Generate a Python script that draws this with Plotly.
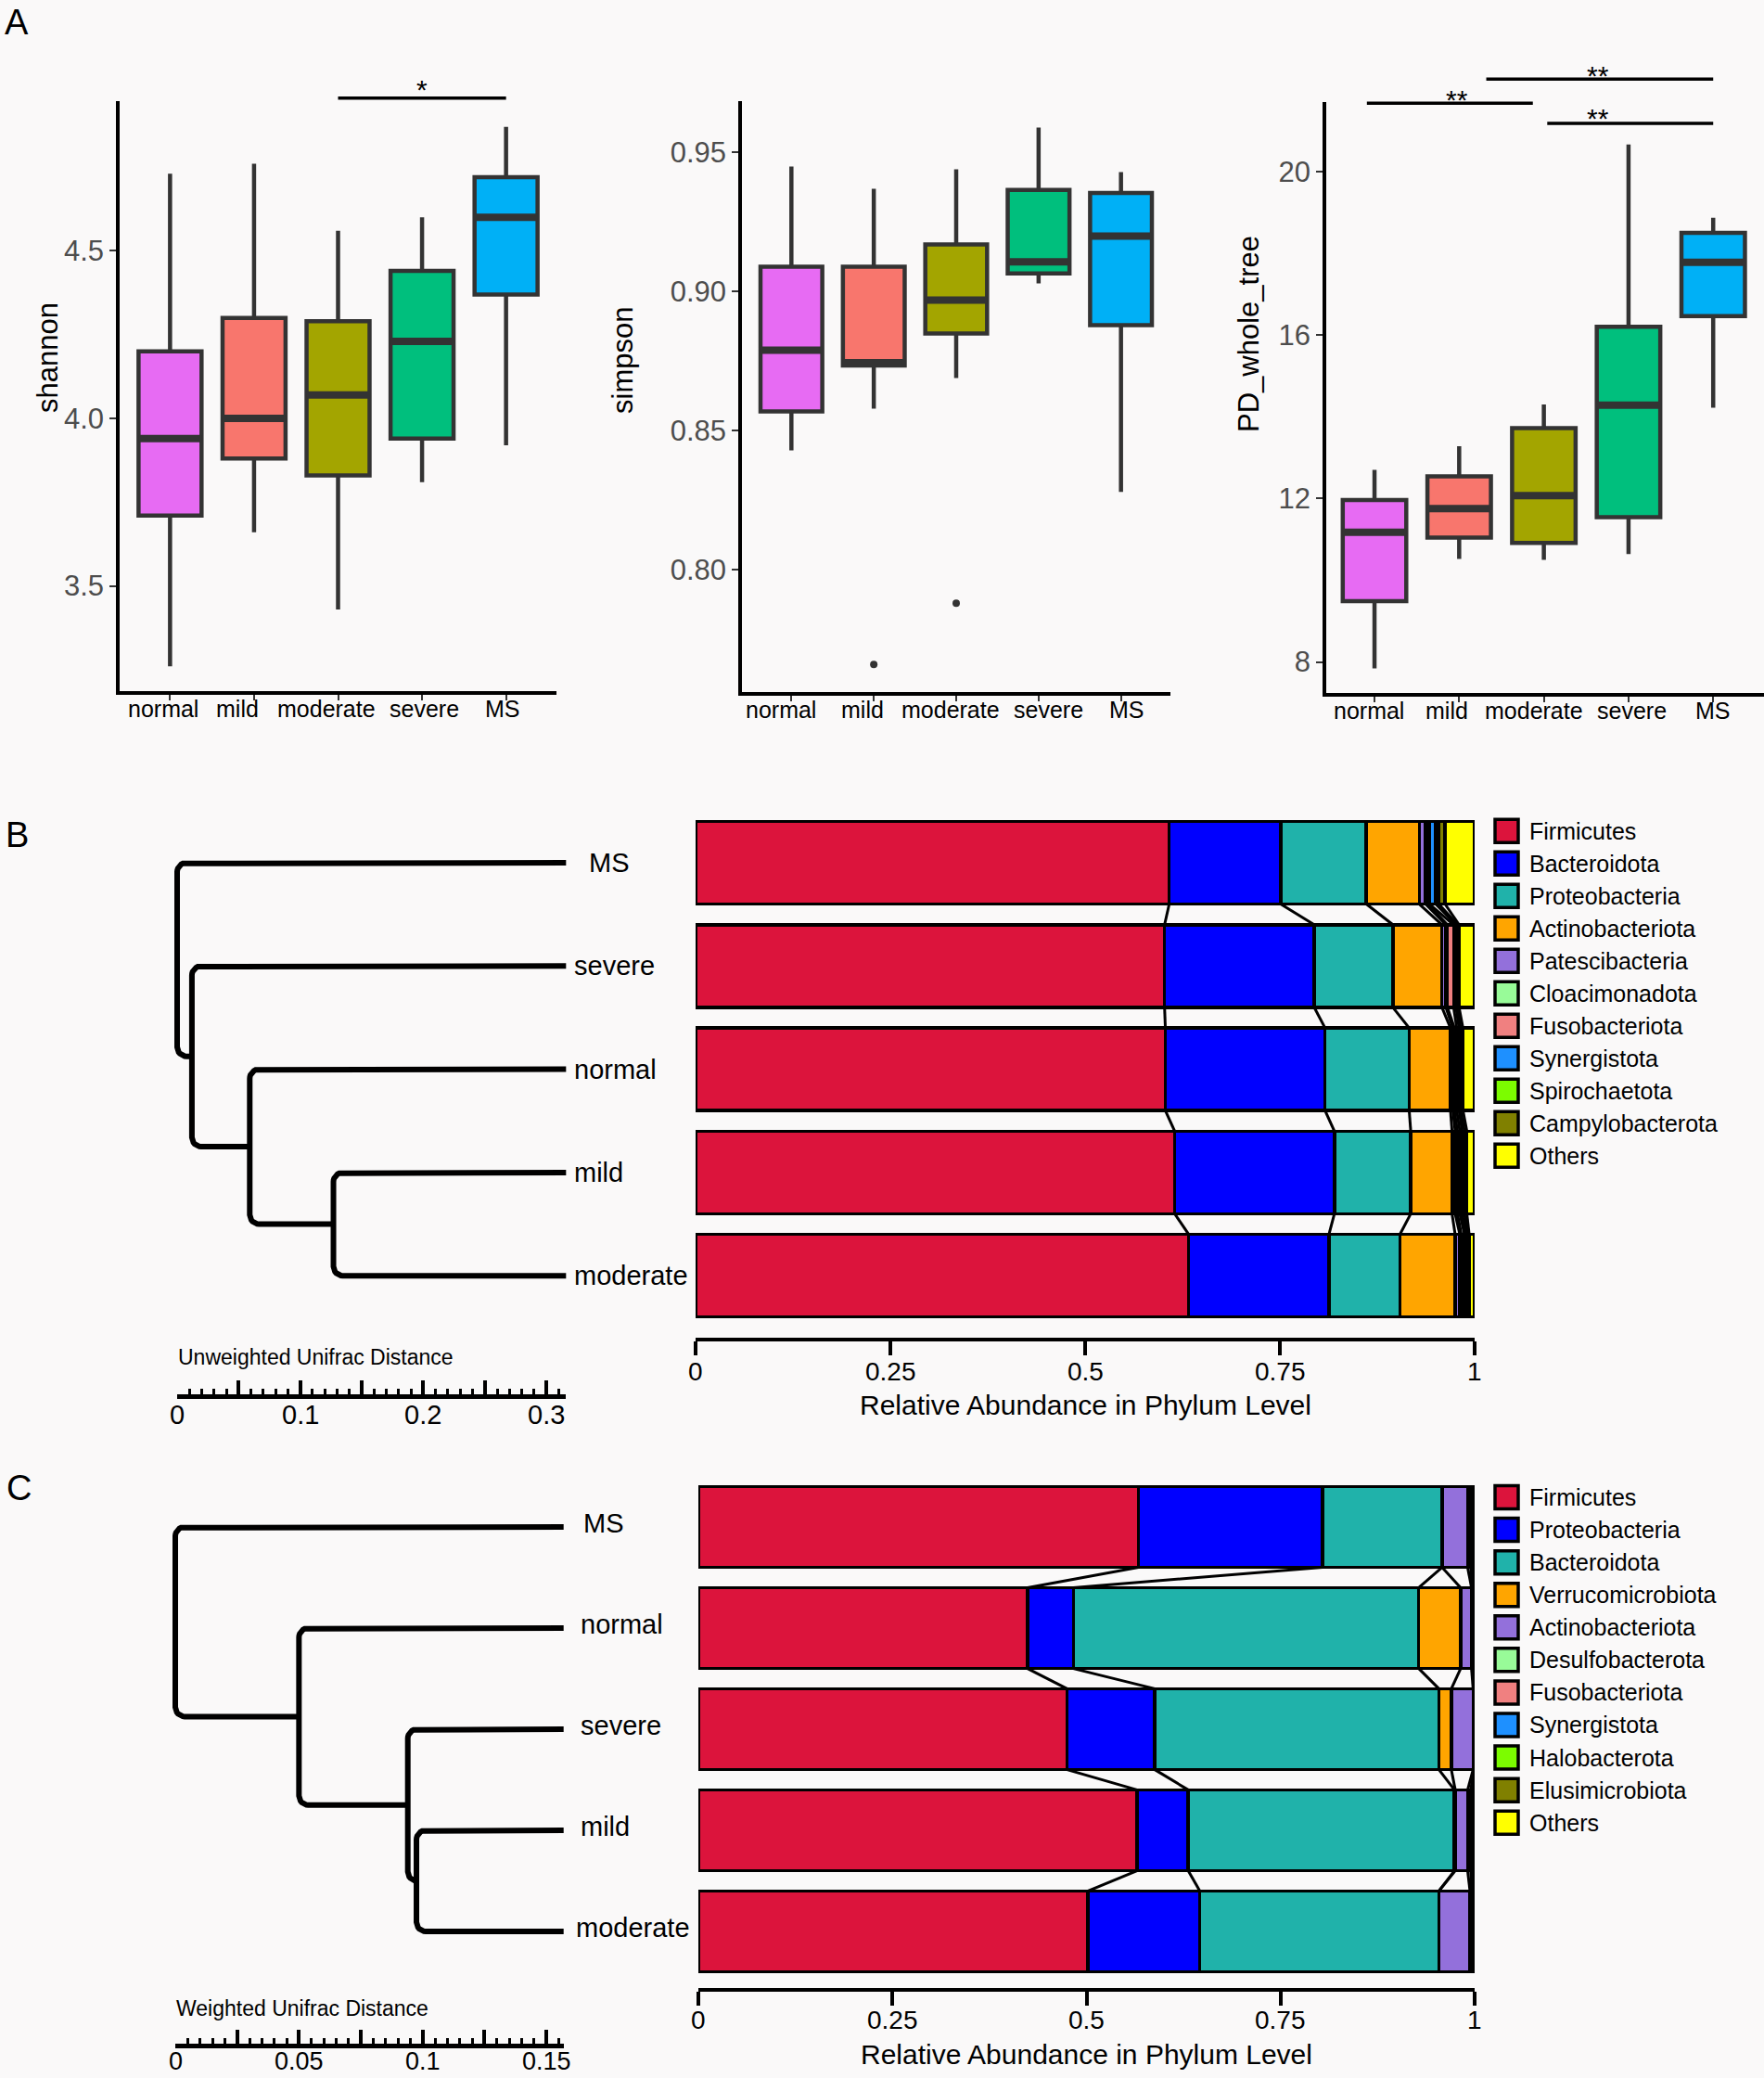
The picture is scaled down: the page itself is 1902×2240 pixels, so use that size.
import numpy as np
import plotly.graph_objects as go

W, H = 1902, 2240
FONT = "Liberation Sans, Arial, sans-serif"
BG = "#FAF9F9"
BOX_LINE = "#333333"

# ===================== Panel A data =====================
groups = ["normal", "mild", "moderate", "severe", "MS"]
group_colors = ["#E76BF3", "#F8766D", "#A3A500", "#00BF7D", "#00B0F6"]

shannon_low = [3.26, 3.66, 3.43, 3.81, 3.92]
shannon_q1 = [3.71, 3.88, 3.83, 3.94, 4.37]
shannon_med = [3.94, 4.00, 4.07, 4.23, 4.60]
shannon_q3 = [4.20, 4.30, 4.29, 4.44, 4.72]
shannon_high = [4.73, 4.76, 4.56, 4.60, 4.87]

simpson_low = [0.843, 0.858, 0.869, 0.903, 0.828]
simpson_q1 = [0.857, 0.8735, 0.885, 0.9066, 0.888]
simpson_med = [0.879, 0.8745, 0.897, 0.9107, 0.920]
simpson_q3 = [0.909, 0.909, 0.917, 0.9366, 0.9355]
simpson_high = [0.945, 0.937, 0.944, 0.959, 0.943]
simpson_outlier_group = ["mild", "moderate"]
simpson_outlier_value = [0.766, 0.788]

pd_low = [7.84, 10.52, 10.50, 10.64, 14.22]
pd_q1 = [9.49, 11.04, 10.91, 11.54, 16.46]
pd_med = [11.17, 11.75, 12.07, 14.28, 17.78]
pd_q3 = [11.96, 12.54, 13.72, 16.20, 18.50]
pd_high = [12.70, 13.28, 14.30, 20.66, 18.87]

shannon_sig_labels = ["*"]
pd_sig_labels = ["**", "**", "**"]

# ===================== Panel B data =====================
B_samples = ["MS", "severe", "normal", "mild", "moderate"]
B_phyla = ["Firmicutes", "Bacteroidota", "Proteobacteria", "Actinobacteriota",
           "Patescibacteria", "Cloacimonadota", "Fusobacteriota", "Synergistota",
           "Spirochaetota", "Campylobacterota", "Others"]
B_MS = [0.608, 0.143, 0.110, 0.068, 0.008, 0.003, 0.002, 0.008, 0.004, 0.008, 0.038]
B_severe = [0.602, 0.192, 0.101, 0.063, 0.005, 0.002, 0.008, 0.003, 0.002, 0.002, 0.020]
B_normal = [0.603, 0.205, 0.108, 0.053, 0.003, 0.002, 0.003, 0.003, 0.002, 0.003, 0.015]
B_mild = [0.615, 0.205, 0.098, 0.053, 0.004, 0.003, 0.003, 0.003, 0.003, 0.003, 0.010]
B_moderate = [0.633, 0.180, 0.091, 0.071, 0.006, 0.002, 0.004, 0.002, 0.002, 0.002, 0.007]
B_tree = (0.000, "MS", (0.012, "severe", (0.059, "normal", (0.127, "mild", "moderate"))))
B_tip_height = 0.316
B_scale_values = [0, 0.1, 0.2, 0.3]
B_scale_labels = ["0", "0.1", "0.2", "0.3"]

# ===================== Panel C data =====================
C_samples = ["MS", "normal", "severe", "mild", "moderate"]
C_phyla = ["Firmicutes", "Proteobacteria", "Bacteroidota", "Verrucomicrobiota",
           "Actinobacteriota", "Desulfobacterota", "Fusobacteriota", "Synergistota",
           "Halobacterota", "Elusimicrobiota", "Others"]
C_MS = [0.567, 0.237, 0.154, 0.000, 0.033, 0.004, 0.001, 0.001, 0.001, 0.001, 0.001]
C_normal = [0.424, 0.059, 0.445, 0.054, 0.014, 0.001, 0.001, 0.001, 0.000, 0.000, 0.001]
C_severe = [0.475, 0.113, 0.366, 0.016, 0.028, 0.001, 0.000, 0.000, 0.000, 0.000, 0.001]
C_mild = [0.565, 0.066, 0.343, 0.001, 0.016, 0.004, 0.001, 0.001, 0.001, 0.001, 0.001]
C_moderate = [0.502, 0.144, 0.308, 0.000, 0.040, 0.002, 0.001, 0.001, 0.001, 0.000, 0.001]
C_tree = (0.000, "MS", (0.050, "normal", (0.094, "severe", (0.0975, "mild", "moderate"))))
C_tip_height = 0.157
C_scale_values = [0, 0.05, 0.1, 0.15]
C_scale_labels = ["0", "0.05", "0.1", "0.15"]

abund_axis_values = [0, 0.25, 0.5, 0.75, 1]
abund_axis_labels = ["0", "0.25", "0.5", "0.75", "1"]
phylum_colors = ["#DC143C", "#0000FF", "#20B2AA", "#FFA500", "#9370DB", "#98FB98",
                 "#F08080", "#1E90FF", "#7CFC00", "#808000", "#FFFF00"]

# ===================== helpers =====================
def px(x):
    return x / W


def py(y):
    return 1 - y / H


def xdom(a, b):
    return [a / W, b / W]


def ydom(top, bottom):
    return [1 - bottom / H, 1 - top / H]


def map_x(v, dom, rng):
    return px(dom[0] + (v - rng[0]) / (rng[1] - rng[0]) * (dom[1] - dom[0]))


def map_y(v, dom, rng):
    return py(dom[1] - (v - rng[0]) / (rng[1] - rng[0]) * (dom[1] - dom[0]))


fig = go.Figure()
layout = {}
shapes = []
annotations = []


def text(x, y, s, size, xanchor="center", yanchor="middle", angle=0, color="black",
         yshift=0, xshift=0):
    annotations.append(dict(x=x, y=y, xref="paper", yref="paper", text=s, showarrow=False,
                            xanchor=xanchor, yanchor=yanchor, textangle=angle,
                            yshift=yshift, xshift=xshift, borderpad=0,
                            font=dict(family=FONT, size=size, color=color)))


# ===================== Panel A =====================
A_panels = [
    dict(ax="", dom_x=(129, 600), dom_y=(109, 745), xr=(0.4, 5.6), yr=(3.186, 4.947),
         stats=(shannon_low, shannon_q1, shannon_med, shannon_q3, shannon_high),
         yt=[3.5, 4.0, 4.5], fmt="{:.1f}", title="shannon", title_px=(52, 386),
         lab_shift=[-7, -18, -13, 2, -4],
         sig=[dict(x0=3, x1=5, y=4.956, lx=4.0, ly=5.002, s=shannon_sig_labels[0])]),
    dict(ax="2", dom_x=(800, 1262), dom_y=(109, 746), xr=(0.4, 5.6), yr=(0.7561, 0.9685),
         stats=(simpson_low, simpson_q1, simpson_med, simpson_q3, simpson_high),
         yt=[0.80, 0.85, 0.90, 0.95], fmt="{:.2f}", title="simpson", title_px=(671, 389),
         lab_shift=[-11, -12, -6, 11, 6],
         sig=[]),
    dict(ax="3", dom_x=(1430, 1902), dom_y=(110, 747), xr=(0.43, 5.6), yr=(7.24, 21.70),
         stats=(pd_low, pd_q1, pd_med, pd_q3, pd_high),
         yt=[8, 12, 16, 20], fmt="{:.0f}", title="PD_whole_tree", title_px=(1347, 360),
         lab_shift=[-6, -13, -11, 4, 0],
         sig=[dict(x0=0.91, x1=2.87, y=21.67, lx=1.97, ly=21.92, s=pd_sig_labels[0]),
              dict(x0=2.32, x1=5.0, y=22.26, lx=3.64, ly=22.51, s=pd_sig_labels[1]),
              dict(x0=3.04, x1=5.0, y=21.18, lx=3.64, ly=21.47, s=pd_sig_labels[2])]),
]

for p in A_panels:
    xa, ya = "x" + p["ax"], "y" + p["ax"]
    low, q1, med, q3, high = p["stats"]
    for i, g in enumerate(groups):
        fig.add_trace(go.Box(x=[i + 1], q1=[q1[i]], median=[med[i]], q3=[q3[i]],
                             lowerfence=[low[i]], upperfence=[high[i]],
                             fillcolor=group_colors[i], line=dict(color=BOX_LINE, width=4.5),
                             width=0.75, whiskerwidth=0, boxpoints=False,
                             xaxis=xa, yaxis=ya, showlegend=False, hoverinfo="skip"))
        fig.add_trace(go.Scatter(x=[i + 1 - 0.375, i + 1 + 0.375], y=[med[i], med[i]],
                                 mode="lines", line=dict(color=BOX_LINE, width=8),
                                 xaxis=xa, yaxis=ya, showlegend=False, hoverinfo="skip"))
        # category label under the axis
        text(map_x(i + 1, p["dom_x"], p["xr"]), py(p["dom_y"][1] + 19), g, 25,
             xshift=p["lab_shift"][i])
    layout["xaxis" + p["ax"]] = dict(
        domain=xdom(*p["dom_x"]), range=list(p["xr"]), anchor=ya,
        tickmode="array", tickvals=[i + 1 for i in range(len(groups))], ticktext=groups,
        showticklabels=False,
        showline=True, linecolor="black", linewidth=3.5, ticks="outside", ticklen=6,
        tickwidth=2, tickcolor=BOX_LINE, showgrid=False, zeroline=False)
    layout["yaxis" + p["ax"]] = dict(
        domain=ydom(*p["dom_y"]), range=list(p["yr"]), anchor=xa,
        tickmode="array", tickvals=p["yt"], ticktext=[p["fmt"].format(v) for v in p["yt"]],
        showline=True, linecolor="black", linewidth=3.5, ticks="outside", ticklen=7,
        tickwidth=2, tickcolor=BOX_LINE, showgrid=False, zeroline=False,
        tickfont=dict(family=FONT, size=31, color="#4D4D4D"))
    text(px(p["title_px"][0]), py(p["title_px"][1]), p["title"], 31, angle=-90)
    for s in p["sig"]:
        shapes.append(dict(type="line", xref="paper", yref="paper",
                           x0=map_x(s["x0"], p["dom_x"], p["xr"]), x1=map_x(s["x1"], p["dom_x"], p["xr"]),
                           y0=map_y(s["y"], p["dom_y"], p["yr"]), y1=map_y(s["y"], p["dom_y"], p["yr"]),
                           line=dict(color="black", width=3.5)))
        text(map_x(s["lx"], p["dom_x"], p["xr"]), map_y(s["ly"], p["dom_y"], p["yr"]), s["s"], 30,
             yshift=-7)

# simpson outliers
fig.add_trace(go.Scatter(x=[groups.index(g) + 1 for g in simpson_outlier_group],
                         y=simpson_outlier_value, mode="markers",
                         marker=dict(color=BOX_LINE, size=8), xaxis="x2", yaxis="y2",
                         showlegend=False, hoverinfo="skip"))

text(px(4), py(24), "A", 38, xanchor="left")

# ===================== Panels B / C =====================
def tree_paths(node, rows, tip_h, rx, ry):
    if isinstance(node, str):
        return tip_h, rows[node], []
    h, a, b = node
    xa_, ya_, pa = tree_paths(a, rows, tip_h, rx, ry)
    xb_, yb_, pb = tree_paths(b, rows, tip_h, rx, ry)
    (xt, yt), (xbt, ybt) = sorted([(xa_, ya_), (xb_, yb_)], key=lambda q: q[1])
    rxt = min(rx, xt - h)
    rxb = min(rx, xbt - h)
    rr = min(ry, (ybt - yt) / 2)
    pts = [(xt, yt)]
    t1 = np.linspace(np.pi / 2, np.pi, 9)
    pts += list(zip(h + rxt + rxt * np.cos(t1), yt + rr - rr * np.sin(t1)))
    t2 = np.linspace(np.pi, 1.5 * np.pi, 9)
    pts += list(zip(h + rxb + rxb * np.cos(t2), ybt - rr - rr * np.sin(t2)))
    pts += [(xbt, ybt)]
    return h, (ya_ + yb_) / 2, pa + pb + [pts]


def build_panel(cfg):
    samples = cfg["samples"]
    mat = np.array(cfg["matrix"])
    n, m = mat.shape
    rows = list(range(n))
    xb, yb, xt, xs, ys = cfg["axes"]
    bar_dom = cfg["bar_x_px"]
    top_px = cfg["row0_px"] - 0.5 * cfg["row_px"]
    y_rng = [(cfg["axis_px"] - cfg["row0_px"]) / cfg["row_px"], -0.5]

    # stacked bars
    for k in range(m):
        fig.add_trace(go.Bar(y=rows, x=mat[:, k], orientation="h", width=0.8,
                             marker=dict(color=phylum_colors[k], line=dict(color="black", width=3.5)),
                             xaxis="x" + xb, yaxis="y" + yb, showlegend=False,
                             cliponaxis=False, hoverinfo="skip"))
    # connecting lines between adjacent bars
    cum = np.cumsum(mat, axis=1)
    lx, ly = [], []
    for i in range(n - 1):
        for k in range(m - 1):
            lx += [cum[i, k], cum[i + 1, k], None]
            ly += [i + 0.4, i + 1 - 0.4, None]
    fig.add_trace(go.Scatter(x=lx, y=ly, mode="lines", line=dict(color="black", width=3),
                             xaxis="x" + xb, yaxis="y" + yb, showlegend=False,
                             hoverinfo="skip", cliponaxis=False))
    layout["xaxis" + xb] = dict(
        domain=xdom(*bar_dom), range=[0, 1], anchor="y" + yb,
        tickmode="array", tickvals=abund_axis_values, ticktext=abund_axis_labels,
        showticklabels=False,
        showline=True, linecolor="black", linewidth=3.5, ticks="outside", ticklen=15,
        tickwidth=3.5, tickcolor="black", showgrid=False, zeroline=False)
    layout["yaxis" + yb] = dict(domain=ydom(top_px, cfg["axis_px"]), range=y_rng,
                                anchor="x" + xb, visible=False, showgrid=False, zeroline=False)
    for v, lab in zip(abund_axis_values, abund_axis_labels):
        text(px(bar_dom[0] + v * (bar_dom[1] - bar_dom[0])), py(cfg["ticklab_px"]), lab, 28)
    text(px((bar_dom[0] + bar_dom[1]) / 2), py(cfg["title_px"]),
         "Relative Abundance in Phylum Level", 30)

    # dendrogram
    z0, ppu, tip = cfg["tree_zero_px"], cfg["tree_ppu"], cfg["tip"]
    pad = 15
    layout["xaxis" + xt] = dict(domain=xdom(z0 - pad, z0 + tip * ppu + pad),
                                range=[-pad / ppu, tip + pad / ppu], anchor="y" + yb,
                                visible=False, showgrid=False, zeroline=False)
    row_index = {s: i for i, s in enumerate(samples)}
    _, _, paths = tree_paths(cfg["tree"], row_index, tip, 10 / ppu, 10 / cfg["row_px"])
    tx, ty = [], []
    for pth in paths:
        tx += [q[0] for q in pth] + [None]
        ty += [q[1] for q in pth] + [None]
    fig.add_trace(go.Scatter(x=tx, y=ty, mode="lines",
                             line=dict(color="black", width=6), xaxis="x" + xt, yaxis="y" + yb,
                             showlegend=False, hoverinfo="skip"))
    for i, s in enumerate(samples):
        text(px(z0 + tip * ppu + cfg["label_gap"].get(s, cfg["label_gap"]["_"])),
             py(cfg["row0_px"] + i * cfg["row_px"]), s, 29, xanchor="left",
             yshift=cfg["label_yshift"])

    # scale bar
    line_px = cfg["scale_line_px"]
    layout["xaxis" + xs] = dict(
        domain=xdom(z0, z0 + tip * ppu), range=[0, tip], anchor="y" + ys,
        tickmode="linear", tick0=0, dtick=cfg["scale_major"],
        showline=True, linecolor="black", linewidth=5, ticks="inside", ticklen=15,
        tickwidth=3.5, tickcolor="black", showgrid=False, zeroline=False,
        showticklabels=False,
        minor=dict(ticks="inside", dtick=cfg["scale_minor"], tick0=0, ticklen=6,
                   tickwidth=3, tickcolor="black", showgrid=False))
    layout["yaxis" + ys] = dict(domain=ydom(line_px - 30, line_px), range=[0, 1],
                                anchor="x" + xs, visible=False)
    fig.add_trace(go.Scatter(x=[0], y=[0.5], mode="markers", marker=dict(opacity=0),
                             xaxis="x" + xs, yaxis="y" + ys, showlegend=False, hoverinfo="skip"))
    for v, lab in zip(cfg["scale_values"], cfg["scale_labels"]):
        text(px(z0 + v * ppu), py(cfg["scale_lab_px"]), lab, cfg["scale_lab_size"])
    text(px(z0), py(cfg["scale_title_px"]), cfg["scale_title"], 23, xanchor="left")

    # legend
    for k, ph in enumerate(cfg["phyla"]):
        cy = cfg["legend_y0"] + k * cfg["legend_dy"]
        shapes.append(dict(type="rect", xref="paper", yref="paper",
                           x0=px(1612), x1=px(1637), y0=py(cy + 12.5), y1=py(cy - 12.5),
                           fillcolor=phylum_colors[k], line=dict(color="black", width=3.5)))
        text(px(1648), py(cy), ph, 25, xanchor="left")
    text(px(cfg["letter_px"][0]), py(cfg["letter_px"][1]), cfg["letter"], 38, xanchor="left")


build_panel(dict(
    samples=B_samples, phyla=B_phyla,
    matrix=[B_MS, B_severe, B_normal, B_mild, B_moderate],
    axes=("4", "4", "5", "6", "6"),
    bar_x_px=(750, 1590), row0_px=930, row_px=111.3, axis_px=1442,
    ticklab_px=1478, title_px=1514,
    tree=B_tree, tip=B_tip_height, tree_zero_px=191, tree_ppu=1327,
    label_gap={"MS": 24, "_": 8}, label_yshift=0,
    scale_line_px=1503, scale_major=0.05, scale_minor=0.01,
    scale_values=B_scale_values, scale_labels=B_scale_labels,
    scale_lab_px=1525, scale_lab_size=29,
    scale_title="Unweighted Unifrac Distance", scale_title_px=1463,
    legend_y0=895.7, legend_dy=35.0, letter="B", letter_px=(5, 900)))

build_panel(dict(
    samples=C_samples, phyla=C_phyla,
    matrix=[C_MS, C_normal, C_severe, C_mild, C_moderate],
    axes=("7", "7", "8", "9", "9"),
    bar_x_px=(753, 1590), row0_px=1646, row_px=109, axis_px=2143,
    ticklab_px=2177, title_px=2214,
    tree=C_tree, tip=C_tip_height, tree_zero_px=189, tree_ppu=2667,
    label_gap={"MS": 20, "moderate": 12, "_": 17}, label_yshift=4,
    scale_line_px=2203, scale_major=0.025, scale_minor=0.005,
    scale_values=C_scale_values, scale_labels=C_scale_labels,
    scale_lab_px=2222, scale_lab_size=27,
    scale_title="Weighted Unifrac Distance", scale_title_px=2165,
    legend_y0=1614, legend_dy=35.07, letter="C", letter_px=(6, 1604)))

fig.update_layout(
    width=W, height=H, autosize=False,
    margin=dict(l=0, r=0, t=0, b=0, pad=0),
    paper_bgcolor=BG, plot_bgcolor=BG,
    barmode="stack", bargap=0.2,
    showlegend=False,
    font=dict(family=FONT, color="black"),
    shapes=shapes, annotations=annotations,
    **layout)

fig.write_html("out.html", config={"displayModeBar": False},
               post_script="document.body.style.margin='0px';document.body.style.overflow='hidden';")
